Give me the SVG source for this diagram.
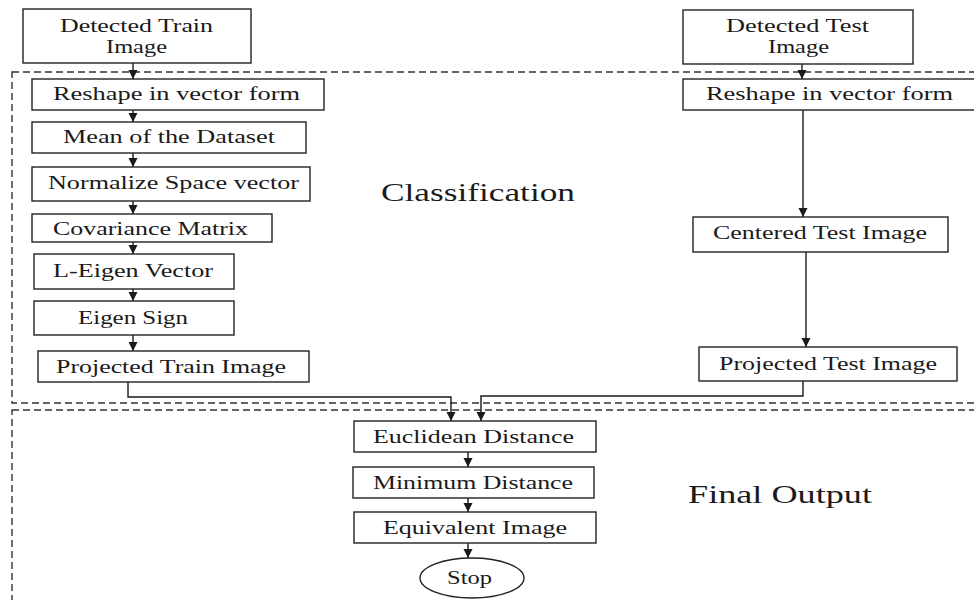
<svg xmlns="http://www.w3.org/2000/svg" width="974" height="600" viewBox="0 0 974 600">
<defs>
<marker id="arr" markerUnits="userSpaceOnUse" markerWidth="10" markerHeight="10" refX="9" refY="4.5" orient="auto">
<path d="M0,0 L9,4.5 L0,9 z" fill="#1a1a1a"/>
</marker>
<style>
.box{fill:#fff;stroke:#222;stroke-width:1.4}
.dash{fill:none;stroke:#333;stroke-width:1.4;stroke-dasharray:7 4}
.t{font-family:"Liberation Serif","Times New Roman",serif;font-size:19px;fill:#1a1a1a;text-anchor:start}
.big{font-family:"Liberation Serif","Times New Roman",serif;font-size:25px;fill:#1a1a1a}
.c{fill:none;stroke:#1a1a1a;stroke-width:1.4}
</style>
</defs>
<rect width="974" height="600" fill="#fff"/>
<g id="regions">
<rect class="dash" x="12" y="72" width="970" height="331"/>
<rect class="dash" x="12" y="410" width="970" height="193"/>
<text class="big" x="381" y="201" textLength="194" lengthAdjust="spacingAndGlyphs">Classification</text>
<text class="big" x="688" y="503" textLength="184" lengthAdjust="spacingAndGlyphs">Final Output</text>
</g>
<g id="connectors">
<line class="c" x1="133" y1="63" x2="133" y2="79" marker-end="url(#arr)"/>
<line class="c" x1="133" y1="110" x2="133" y2="122" marker-end="url(#arr)"/>
<line class="c" x1="133" y1="153" x2="133" y2="167" marker-end="url(#arr)"/>
<line class="c" x1="133" y1="201" x2="133" y2="214" marker-end="url(#arr)"/>
<line class="c" x1="133" y1="242" x2="133" y2="254" marker-end="url(#arr)"/>
<line class="c" x1="133" y1="289" x2="133" y2="301" marker-end="url(#arr)"/>
<line class="c" x1="133" y1="335" x2="133" y2="351" marker-end="url(#arr)"/>
<line class="c" x1="802" y1="64" x2="802" y2="79" marker-end="url(#arr)"/>
<line class="c" x1="803" y1="110" x2="803" y2="217" marker-end="url(#arr)"/>
<line class="c" x1="806" y1="252" x2="806" y2="347" marker-end="url(#arr)"/>
<polyline class="c" points="128,382 128,397 451,397 451,421" marker-end="url(#arr)"/>
<polyline class="c" points="803,381 803,396 481,396 481,421" marker-end="url(#arr)"/>
<line class="c" x1="468" y1="452" x2="468" y2="467" marker-end="url(#arr)"/>
<line class="c" x1="468" y1="498" x2="468" y2="512" marker-end="url(#arr)"/>
<line class="c" x1="468" y1="543" x2="468" y2="558" marker-end="url(#arr)"/>
</g>
<g id="detected-train"><rect class="box" x="23" y="9" width="228" height="54"/>
<text class="t" x="60" y="32" textLength="153" lengthAdjust="spacingAndGlyphs">Detected Train</text>
<text class="t" x="106" y="53" textLength="61" lengthAdjust="spacingAndGlyphs">Image</text></g>
<g id="reshape-train"><rect class="box" x="32" y="79" width="292" height="31"/>
<text class="t" x="53" y="100" textLength="247" lengthAdjust="spacingAndGlyphs">Reshape in vector form</text></g>
<g id="mean"><rect class="box" x="32" y="122" width="274" height="31"/>
<text class="t" x="63" y="143" textLength="212" lengthAdjust="spacingAndGlyphs">Mean of the Dataset</text></g>
<g id="normalize"><rect class="box" x="32" y="167" width="278" height="34"/>
<text class="t" x="48" y="189" textLength="251" lengthAdjust="spacingAndGlyphs">Normalize Space vector</text></g>
<g id="covariance"><rect class="box" x="32" y="214" width="240" height="28"/>
<text class="t" x="53" y="235" textLength="195" lengthAdjust="spacingAndGlyphs">Covariance Matrix</text></g>
<g id="l-eigen"><rect class="box" x="34" y="254" width="200" height="35"/>
<text class="t" x="53" y="277" textLength="160" lengthAdjust="spacingAndGlyphs">L-Eigen Vector</text></g>
<g id="eigen-sign"><rect class="box" x="34" y="301" width="200" height="34"/>
<text class="t" x="78" y="324" textLength="110" lengthAdjust="spacingAndGlyphs">Eigen Sign</text></g>
<g id="projected-train"><rect class="box" x="38" y="351" width="271" height="31"/>
<text class="t" x="56" y="373" textLength="230" lengthAdjust="spacingAndGlyphs">Projected Train Image</text></g>
<g id="detected-test"><rect class="box" x="683" y="10" width="230" height="54"/>
<text class="t" x="726" y="32" textLength="143" lengthAdjust="spacingAndGlyphs">Detected Test</text>
<text class="t" x="768" y="53" textLength="61" lengthAdjust="spacingAndGlyphs">Image</text></g>
<g id="reshape-test"><rect class="box" x="683" y="79" width="294" height="31"/>
<text class="t" x="706" y="100" textLength="247" lengthAdjust="spacingAndGlyphs">Reshape in vector form</text></g>
<g id="centered-test"><rect class="box" x="693" y="217" width="255" height="35"/>
<text class="t" x="713" y="239" textLength="214" lengthAdjust="spacingAndGlyphs">Centered Test Image</text></g>
<g id="projected-test"><rect class="box" x="699" y="347" width="258" height="34"/>
<text class="t" x="719" y="370" textLength="218" lengthAdjust="spacingAndGlyphs">Projected Test Image</text></g>
<g id="euclidean"><rect class="box" x="354" y="421" width="242" height="31"/>
<text class="t" x="373" y="443" textLength="201" lengthAdjust="spacingAndGlyphs">Euclidean Distance</text></g>
<g id="minimum"><rect class="box" x="353" y="467" width="241" height="31"/>
<text class="t" x="373" y="489" textLength="200" lengthAdjust="spacingAndGlyphs">Minimum Distance</text></g>
<g id="equivalent"><rect class="box" x="354" y="512" width="242" height="31"/>
<text class="t" x="383" y="534" textLength="184" lengthAdjust="spacingAndGlyphs">Equivalent Image</text></g>
<g id="stop"><ellipse class="box" cx="472" cy="578" rx="52" ry="20"/>
<text class="t" x="447" y="584" textLength="45" lengthAdjust="spacingAndGlyphs">Stop</text></g>
</svg>
